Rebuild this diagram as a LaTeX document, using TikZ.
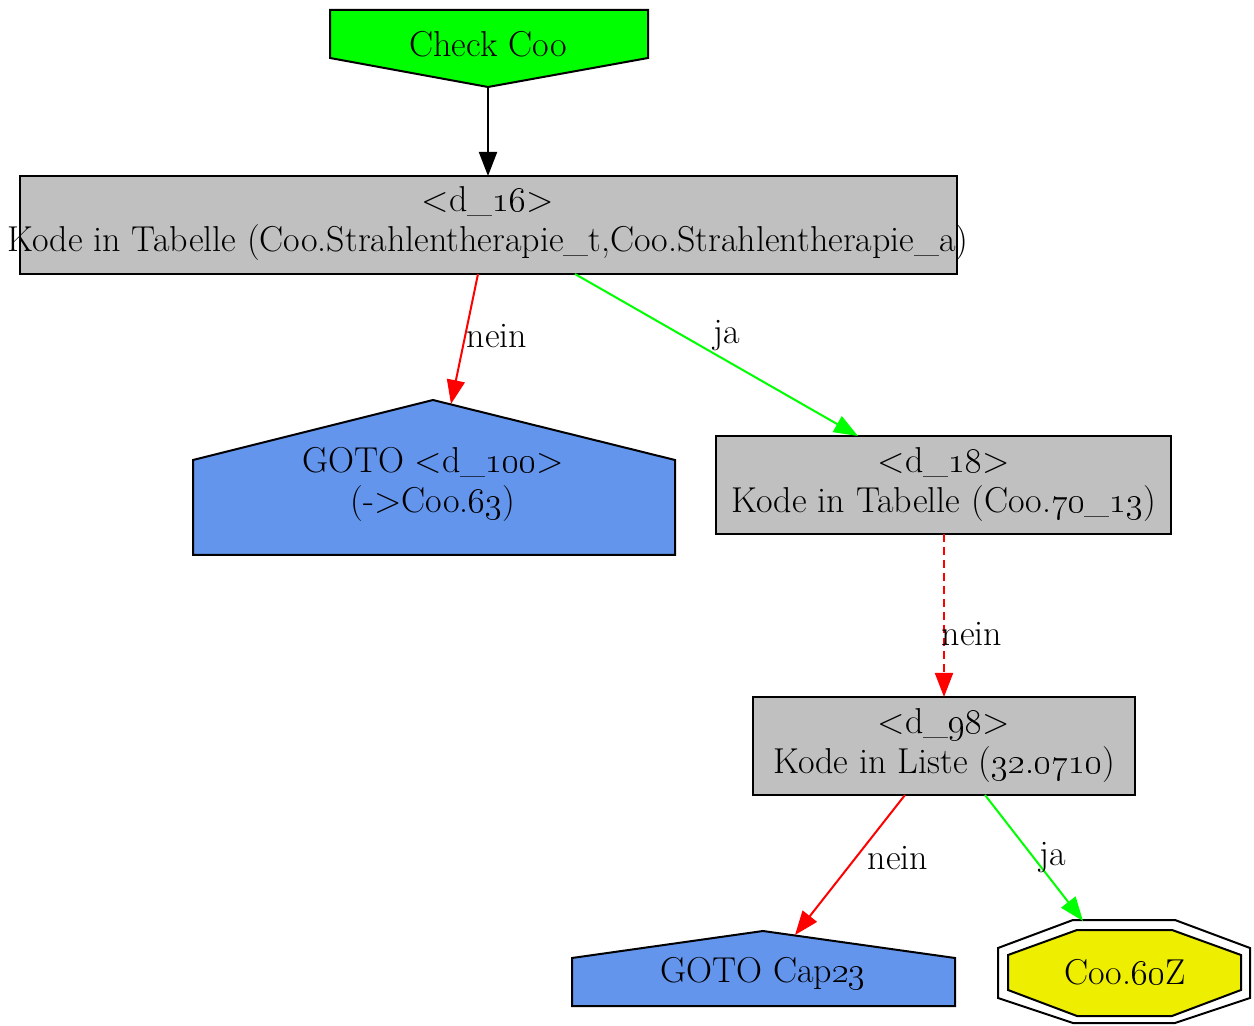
\RequirePackage{fix-cm}
\documentclass[tikz,border=0pt]{standalone}
\usetikzlibrary{arrows.meta}
\definecolor{cgreen}{HTML}{00FF00}
\definecolor{cred}{HTML}{FF0000}
\definecolor{cgray}{HTML}{C0C0C0}
\definecolor{cblue}{HTML}{6495ED}
\definecolor{cyellow}{HTML}{EEEE00}
\newcommand{\osn}[1]{\oldstylenums{#1}}
\begin{document}
\begin{tikzpicture}[x=0.5pt,y=-0.5pt,
  outline/.style={draw=black, line width=1pt, line join=miter},
  lbl/.style={font=\fontsize{18}{20}\selectfont, align=center, inner sep=0pt},
  elbl/.style={font=\fontsize{18}{20}\selectfont, inner sep=0pt},
  conn/.style={line width=1pt, -{Triangle[length=12pt,width=9pt]}}]
\useasboundingbox (0,0) rectangle (1254,1026);

% start node (inverted house)
\path[outline, fill=cgreen] (330,10) -- (648,10) -- (648,58) -- (488,87) -- (330,58) -- cycle;
\node[lbl] (check) at (488,44) {Check Coo};

% decision d_16
\path[outline, fill=cgray] (20,176) rectangle (957,274);
\node[lbl] (d16) at (488,224) {\textless d\_\osn{16}\textgreater\\Kode in Tabelle (Coo.Strahlentherapie\_t,Coo.Strahlentherapie\_a)};

% jump target d_100 (house)
\path[outline, fill=cblue] (193,460) -- (433,400) -- (675,460) -- (675,555) -- (193,555) -- cycle;
\node[lbl] (d100) at (433,484) {GOTO \textless d\_\osn{100}\textgreater\\(->Coo.\osn{63})};

% decision d_18
\path[outline, fill=cgray] (716,436) rectangle (1171,534);
\node[lbl] (d18) at (944,485) {\textless d\_\osn{18}\textgreater\\Kode in Tabelle (Coo.\osn{70}\_\osn{13})};

% decision d_98
\path[outline, fill=cgray] (753,697) rectangle (1135,795);
\node[lbl] (d98) at (944,746) {\textless d\_\osn{98}\textgreater\\Kode in Liste (\osn{32.0710})};

% jump target Cap23 (house)
\path[outline, fill=cblue] (572,958) -- (763,931) -- (955,958) -- (955,1006) -- (572,1006) -- cycle;
\node[lbl] (cap) at (763,973) {GOTO Cap\osn{23}};

% result (double octagon)
\path[outline] (1073,920) -- (1175,920) -- (1250,948) -- (1250,998) -- (1175,1023) -- (1073,1023) -- (998,998) -- (998,948) -- cycle;
\path[outline, fill=cyellow] (1077,930) -- (1172,930) -- (1241,955) -- (1241,990) -- (1172,1016) -- (1077,1016) -- (1008,990) -- (1008,955) -- cycle;
\node[lbl] (res) at (1125,972) {Coo.\osn{60}Z};

% connector end points
\coordinate (checkS) at (488,87);
\coordinate (d16T) at (488,176);
\coordinate (d16Sa) at (478,274);
\coordinate (d16Sb) at (575,274);
\coordinate (d100T) at (451,404);
\coordinate (d18T) at (858,436);
\coordinate (d18S) at (944,534);
\coordinate (d98T) at (944,697);
\coordinate (d98Sa) at (905,795);
\coordinate (d98Sb) at (985,795);
\coordinate (capT) at (795,935);
\coordinate (resT) at (1083,921);

% connectors
\draw[conn, black] (checkS) -- (d16T);
\draw[conn, cred] (d16Sa) -- (d100T);
\draw[conn, cgreen] (d16Sb) -- (d18T);
\draw[conn, cred, dash pattern=on 4pt off 2.5pt] (d18S) -- (d98T);
\draw[conn, cred] (d98Sa) -- (capT);
\draw[conn, cgreen] (d98Sb) -- (resT);

% connector labels
\node[elbl] (l1) at (497,336) {nein};
\node[elbl] (l2) at (727,336) {ja};
\node[elbl] (l3) at (972,634) {nein};
\node[elbl] (l4) at (898,858) {nein};
\node[elbl] (l5) at (1053,858) {ja};
\end{tikzpicture}
\end{document}
